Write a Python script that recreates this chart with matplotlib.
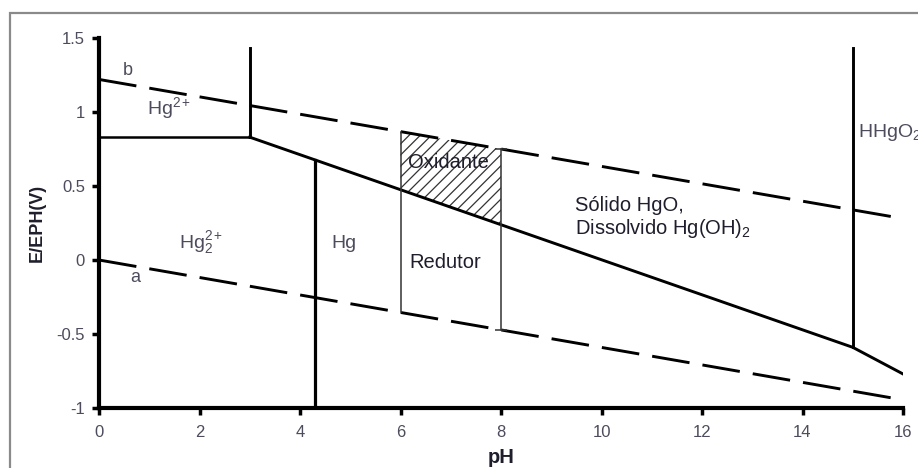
#!/usr/bin/env python3
"""
Pourbaix (E-pH) diagram of mercury with the water stability lines a and b.
"""

import numpy as np
import matplotlib
matplotlib.use('Agg')
import matplotlib.pyplot as plt
from matplotlib.patches import Rectangle

# Water stability lines (dashed)
ph_b = [0, 16]
e_b = [1.22, 0.28]
ph_a = [0, 16]
e_a = [0.0, -0.945]

# Hg boundary: Hg2+/Hg2(2+) horizontal, then the solid HgO / Hg line
ph_hg = [0, 3, 15, 16]
e_hg = [0.83, 0.83, -0.59, -0.77]

# Vertical boundaries (pH, top E); bottom comes from the line they stand on
ph_vert_top = [3, 15]
e_vert_top = [1.43, 1.43]
ph_hg_metal = 4.3

# Thin lines bounding the shaded window
ph_window = [6, 8]

x_ticks = [0, 2, 4, 6, 8, 10, 12, 14, 16]
y_ticks = [-1, -0.5, 0, 0.5, 1, 1.5]
y_tick_labels = ['-1', '-0.5', '0', '0.5', '1', '1.5']

plt.rcParams['font.family'] = ['Liberation Sans', 'DejaVu Sans']
plt.rcParams['mathtext.fontset'] = 'custom'
plt.rcParams['mathtext.rm'] = 'Liberation Sans'
plt.rcParams['mathtext.it'] = 'Liberation Sans:italic'
plt.rcParams['mathtext.bf'] = 'Liberation Sans:bold'
plt.rcParams['hatch.linewidth'] = 0.9

DARK = '#1e1e2c'
GREY = '#4c4c5c'


def main():
    fig = plt.figure(figsize=(9.18, 4.68), dpi=100)
    ax = fig.add_axes([99 / 918, 1 - 408 / 468, (903 - 99) / 918, (408 - 38) / 468])

    # outer grey frame (cut by the right and bottom edges of the picture)
    fig.patches.append(Rectangle((10 / 918, -0.2), 1.2, 1 - 13 / 468 + 0.2,
                                 transform=fig.transFigure, fill=False,
                                 edgecolor='#8a8a8a', linewidth=1.6))

    dash = (13, 4.5)
    ax.plot(ph_b, e_b, color='black', lw=2.1, dashes=dash, solid_capstyle='butt')
    ax.plot(ph_a, e_a, color='black', lw=2.1, dashes=dash, solid_capstyle='butt')

    ax.plot(ph_hg[:2], e_hg[:2], color='black', lw=1.8)
    ax.plot(ph_hg[1:], e_hg[1:], color='black', lw=2.1)

    for x, top in zip(ph_vert_top, e_vert_top):
        bottom = np.interp(x, ph_hg, e_hg)
        ax.plot([x, x], [bottom, top], color='black', lw=2.1)

    hg_top = np.interp(ph_hg_metal, ph_hg, e_hg)
    ax.plot([ph_hg_metal, ph_hg_metal], [-1, hg_top], color='black', lw=2.3)

    # window between pH 6 and 8
    for x in ph_window:
        lo = np.interp(x, ph_a, e_a)
        hi = np.interp(x, ph_b, e_b)
        ax.plot([x, x], [lo, hi], color='#333333', lw=1.1)
    x8 = ph_window[1]
    ax.plot([x8, x8], [np.interp(x8, ph_a, e_a), np.interp(x8, ph_b, e_b)],
            ls='none', marker='_', markersize=9, mew=1.1, color='#333333')

    xs = np.linspace(ph_window[0], ph_window[1], 50)
    ax.fill_between(xs, np.interp(xs, ph_hg, e_hg), np.interp(xs, ph_b, e_b),
                    facecolor='none', edgecolor='#333333', hatch='///', lw=0)

    # labels
    ax.text(0.58, 1.28, 'b', color=GREY, fontsize=13, ha='center', va='center')
    ax.text(0.72, -0.12, 'a', color=GREY, fontsize=13, ha='center', va='center')
    ax.text(0.95, 1.03, r'Hg$^{2+}$', color=GREY, fontsize=14, ha='left', va='center')
    ax.text(1.6, 0.12, r'Hg$_2^{2+}$', color=GREY, fontsize=14, ha='left', va='center')
    ax.text(4.62, 0.11, 'Hg', color=GREY, fontsize=14, ha='left', va='center')
    ax.text(6.95, 0.66, 'Oxidante', color=DARK, fontsize=14.5, ha='center', va='center')
    ax.text(6.89, -0.02, 'Redutor', color=DARK, fontsize=14.5, ha='center', va='center')
    ax.text(9.47, 0.285, 'Sólido HgO,\nDissolvido Hg(OH)$_2$', color=DARK,
            fontsize=14.5, ha='left', va='center', linespacing=1.15)
    ax.text(15.1, 0.86, r'HHgO$_2$', color=GREY, fontsize=14, ha='left',
            va='center', clip_on=False)

    ax.set_xlim(0, 16)
    ax.set_ylim(-1, 1.5)
    ax.set_xticks(x_ticks)
    ax.set_yticks(y_ticks)
    ax.set_yticklabels(y_tick_labels)

    for side in ['top', 'right']:
        ax.spines[side].set_visible(False)
    for side in ['left', 'bottom']:
        ax.spines[side].set_linewidth(3.0)
    ax.tick_params(direction='out', length=5, width=2.5, labelsize=12,
                   labelcolor=GREY, color='black')
    ax.tick_params(axis='x', pad=7)
    ax.tick_params(axis='y', pad=5)

    ax.set_xlabel('pH', fontsize=14.5, fontweight='bold', color=DARK, labelpad=6)
    ax.set_ylabel('E/EPH(V)', fontsize=13, fontweight='bold', color=DARK, labelpad=8)

    fig.savefig('out.png', dpi=100)
    plt.close(fig)


if __name__ == '__main__':
    main()
